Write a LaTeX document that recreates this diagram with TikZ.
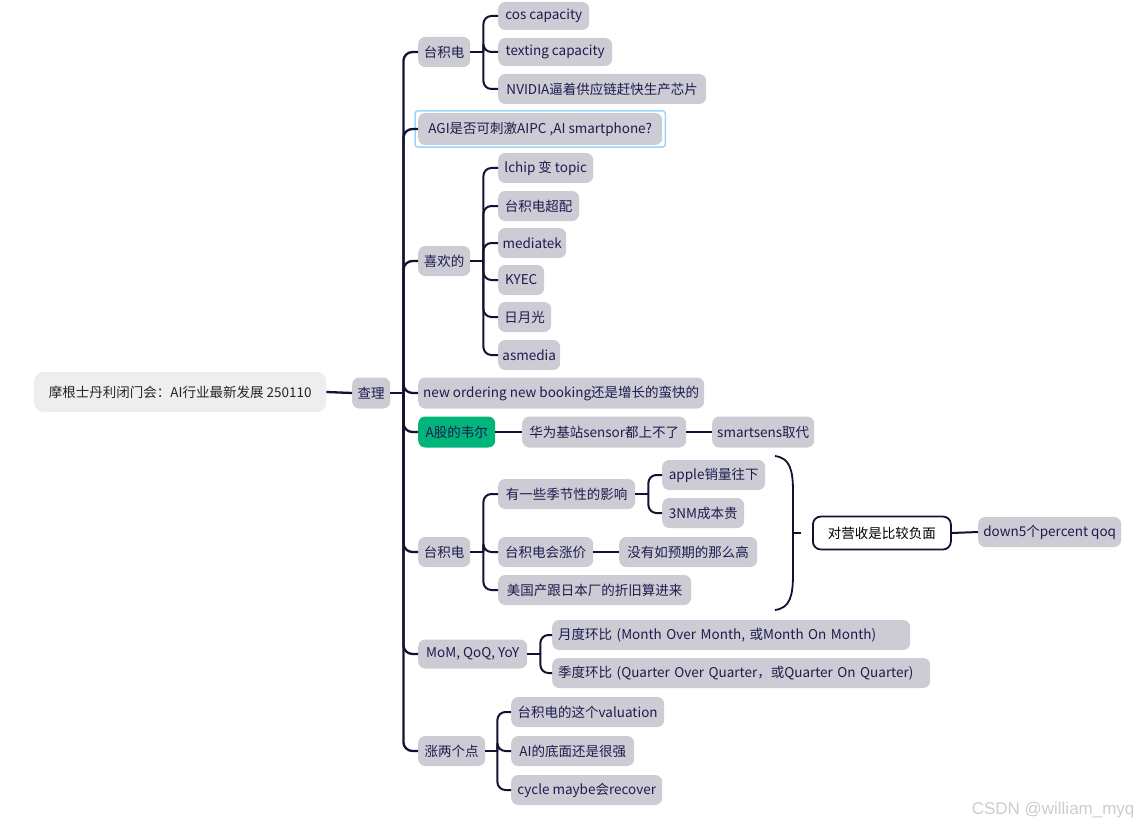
\documentclass[tikz,border=0pt]{standalone}
\usepackage{fontspec}
\setmainfont{Noto Sans CJK SC}
\newfontfamily\wmfont{Liberation Sans}
\usetikzlibrary{calc}
\definecolor{nodegray}{HTML}{CDCCD4}
\definecolor{rootgray}{HTML}{EEEDF0}
\definecolor{txtblue}{HTML}{1C1C50}
\definecolor{linecol}{HTML}{111133}
\definecolor{agreen}{HTML}{00B47A}
\definecolor{skyb}{HTML}{9AD6F7}
\tikzset{
  nd/.style={anchor=west, fill=nodegray, rounded corners=7pt, minimum height=30pt,
    inner sep=4pt, text=txtblue, font=\fontsize{13.5}{15}\selectfont},
  leftal/.style={text width=#1, align=left},
  ln/.style={draw=linecol, line width=2pt, rounded corners=8pt},
  trunk/.style={draw=linecol, line width=2.3pt, rounded corners=9pt},
}
\begin{document}
\begin{tikzpicture}[x=1pt,y=-1pt]
\useasboundingbox (0,0) rectangle (1142,829);
% root
\node[nd, fill=rootgray, minimum width=292pt, minimum height=40pt, rounded corners=9pt, text=black!85] (root) at (34,392) {摩根士丹利闭门会：AI行业最新发展 250110};
\node[nd, minimum width=38pt, minimum height=31pt] (cha) at (352,393) {查理};
% level 1
\node[nd, minimum width=52pt] (t1) at (418,52) {台积电};
\node[nd, minimum width=244pt, minimum height=32pt] (agi) at (418,129) {AGI是否可刺激AIPC ,AI smartphone?};
\node[nd, minimum width=52pt] (xh) at (418,261) {喜欢的};
\node[nd, minimum width=286pt, minimum height=31pt] (no) at (418,393) {new ordering new booking还是增长的蛮快的};
\node[nd, fill=agreen, minimum width=77pt, minimum height=31pt] (ag) at (418,432) {A股的韦尔};
\node[nd, minimum width=52pt] (t2) at (418,552) {台积电};
\node[nd, minimum width=109pt, minimum height=29pt] (mom) at (418,654) {MoM, QoQ, YoY};
\node[nd, minimum width=67pt] (zl) at (418,751) {涨两个点};
% blue outline around agi
\draw[skyb, line width=1.5pt, rounded corners=3pt] ($(agi.south west)+(-3,2)$) rectangle ($(agi.north east)+(3,-2)$);
% level 2 : t1
\node[nd, minimum width=91pt, minimum height=28pt] (a1) at (498,16) {cos capacity};
\node[nd, minimum width=114pt, minimum height=28pt] (a2) at (498,52) {texting capacity};
\node[nd, minimum width=208pt] (a3) at (498,89) {NVIDIA逼着供应链赶快生产芯片};
% xh
\node[nd, minimum width=95pt] (b1) at (498,168) {lchip 变 topic};
\node[nd, minimum width=81pt] (b2) at (498,206) {台积电超配};
\node[nd, minimum width=68pt] (b3) at (498,243) {mediatek};
\node[nd, minimum width=46pt] (b4) at (498,280) {KYEC};
\node[nd, minimum width=53pt] (b5) at (498,317) {日月光};
\node[nd, minimum width=62pt] (b6) at (498,355) {asmedia};
% ag
\node[nd, minimum width=164pt, minimum height=31pt] (hw) at (522,432) {华为基站sensor都上不了};
\node[nd, minimum width=102pt, minimum height=31pt] (ss) at (712,432) {smartsens取代};
% t2
\node[nd, minimum width=137pt] (c1) at (498,494) {有一些季节性的影响};
\node[nd, minimum width=103pt] (c11) at (662,475) {apple销量往下};
\node[nd, minimum width=82pt] (c12) at (662,513) {3NM成本贵};
\node[nd, minimum width=95pt] (c2) at (498,552) {台积电会涨价};
\node[nd, minimum width=138pt] (c21) at (619,552) {没有如预期的那么高};
\node[nd, minimum width=193pt] (c3) at (498,590) {美国产跟日本厂的折旧算进来};
\node[nd, fill=white, draw=linecol, line width=1.8pt, rounded corners=8pt, minimum width=138pt, minimum height=33pt, text=black] (dy) at (812,533) {对营收是比较负面};
\node[nd, minimum width=143pt] (dn) at (978,532) {down5个percent qoq};
% mom
\node[nd, leftal=346pt, inner xsep=6pt] (m1) at (552,635) {月度环比 (Month Over Month, 或Month On Month)};
\node[nd, leftal=366pt, inner xsep=6pt] (m2) at (552,673) {季度环比 (Quarter Over Quarter，或Quarter On Quarter)};
% zl
\node[nd, minimum width=153pt] (z1) at (511,712) {台积电的这个valuation};
\node[nd, minimum width=123pt] (z2) at (511,751) {AI的底面还是很强};
\node[nd, minimum width=151pt] (z3) at (511,790) {cycle maybe会recover};
% connectors
\draw[trunk] (root.east) -- (cha.west);
\coordinate (J0) at ($(cha.east)+(13,0)$);
\draw[trunk] (cha.east) -- (J0);
\foreach \c in {t1,agi,xh,no,ag,t2,mom,zl} { \draw[trunk] (J0) |- (\c.west); }
\coordinate (J1) at ($(t1.east)+(13,0)$);
\draw[ln] (t1.east) -- (J1);
\foreach \c in {a1,a2,a3} { \draw[ln] (J1) |- (\c.west); }
\coordinate (J2) at ($(xh.east)+(13,0)$);
\draw[ln] (xh.east) -- (J2);
\foreach \c in {b1,b2,b3,b4,b5,b6} { \draw[ln] (J2) |- (\c.west); }
\draw[ln] (ag.east) -- (hw.west);
\draw[ln] (hw.east) -- (ss.west);
\coordinate (J3) at ($(t2.east)+(13,0)$);
\draw[ln] (t2.east) -- (J3);
\foreach \c in {c1,c2,c3} { \draw[ln] (J3) |- (\c.west); }
\coordinate (J4) at ($(c1.east)+(13,0)$);
\draw[ln] (c1.east) -- (J4);
\foreach \c in {c11,c12} { \draw[ln] (J4) |- (\c.west); }
\draw[ln] (c2.east) -- (c21.west);
\coordinate (J5) at ($(mom.east)+(13,0)$);
\draw[ln] (mom.east) -- (J5);
\foreach \c in {m1,m2} { \draw[ln] (J5) |- (\c.west); }
\coordinate (J6) at ($(zl.east)+(12,0)$);
\draw[ln] (zl.east) -- (J6);
\foreach \c in {z1,z2,z3} { \draw[ln] (J6) |- (\c.west); }
% brace
\coordinate (bt) at (775,456);
\coordinate (bb) at (775,610);
\coordinate (bm) at (793,533);
\draw[draw=linecol, line width=1.8pt] (bt) .. controls (790,458) and (793,470) .. (793,492) -- (793,574) .. controls (793,596) and (790,608) .. (bb);
\draw[draw=linecol, line width=1.8pt] (bm) -- ++(8,0);
\draw[ln] (dy.east) -- (dn.west);
% watermark
\node[anchor=east, text=black!20, font=\wmfont\fontsize{17}{19}\selectfont] (wm) at (1138,810) {CSDN @william\_myq};
\end{tikzpicture}
\end{document}
